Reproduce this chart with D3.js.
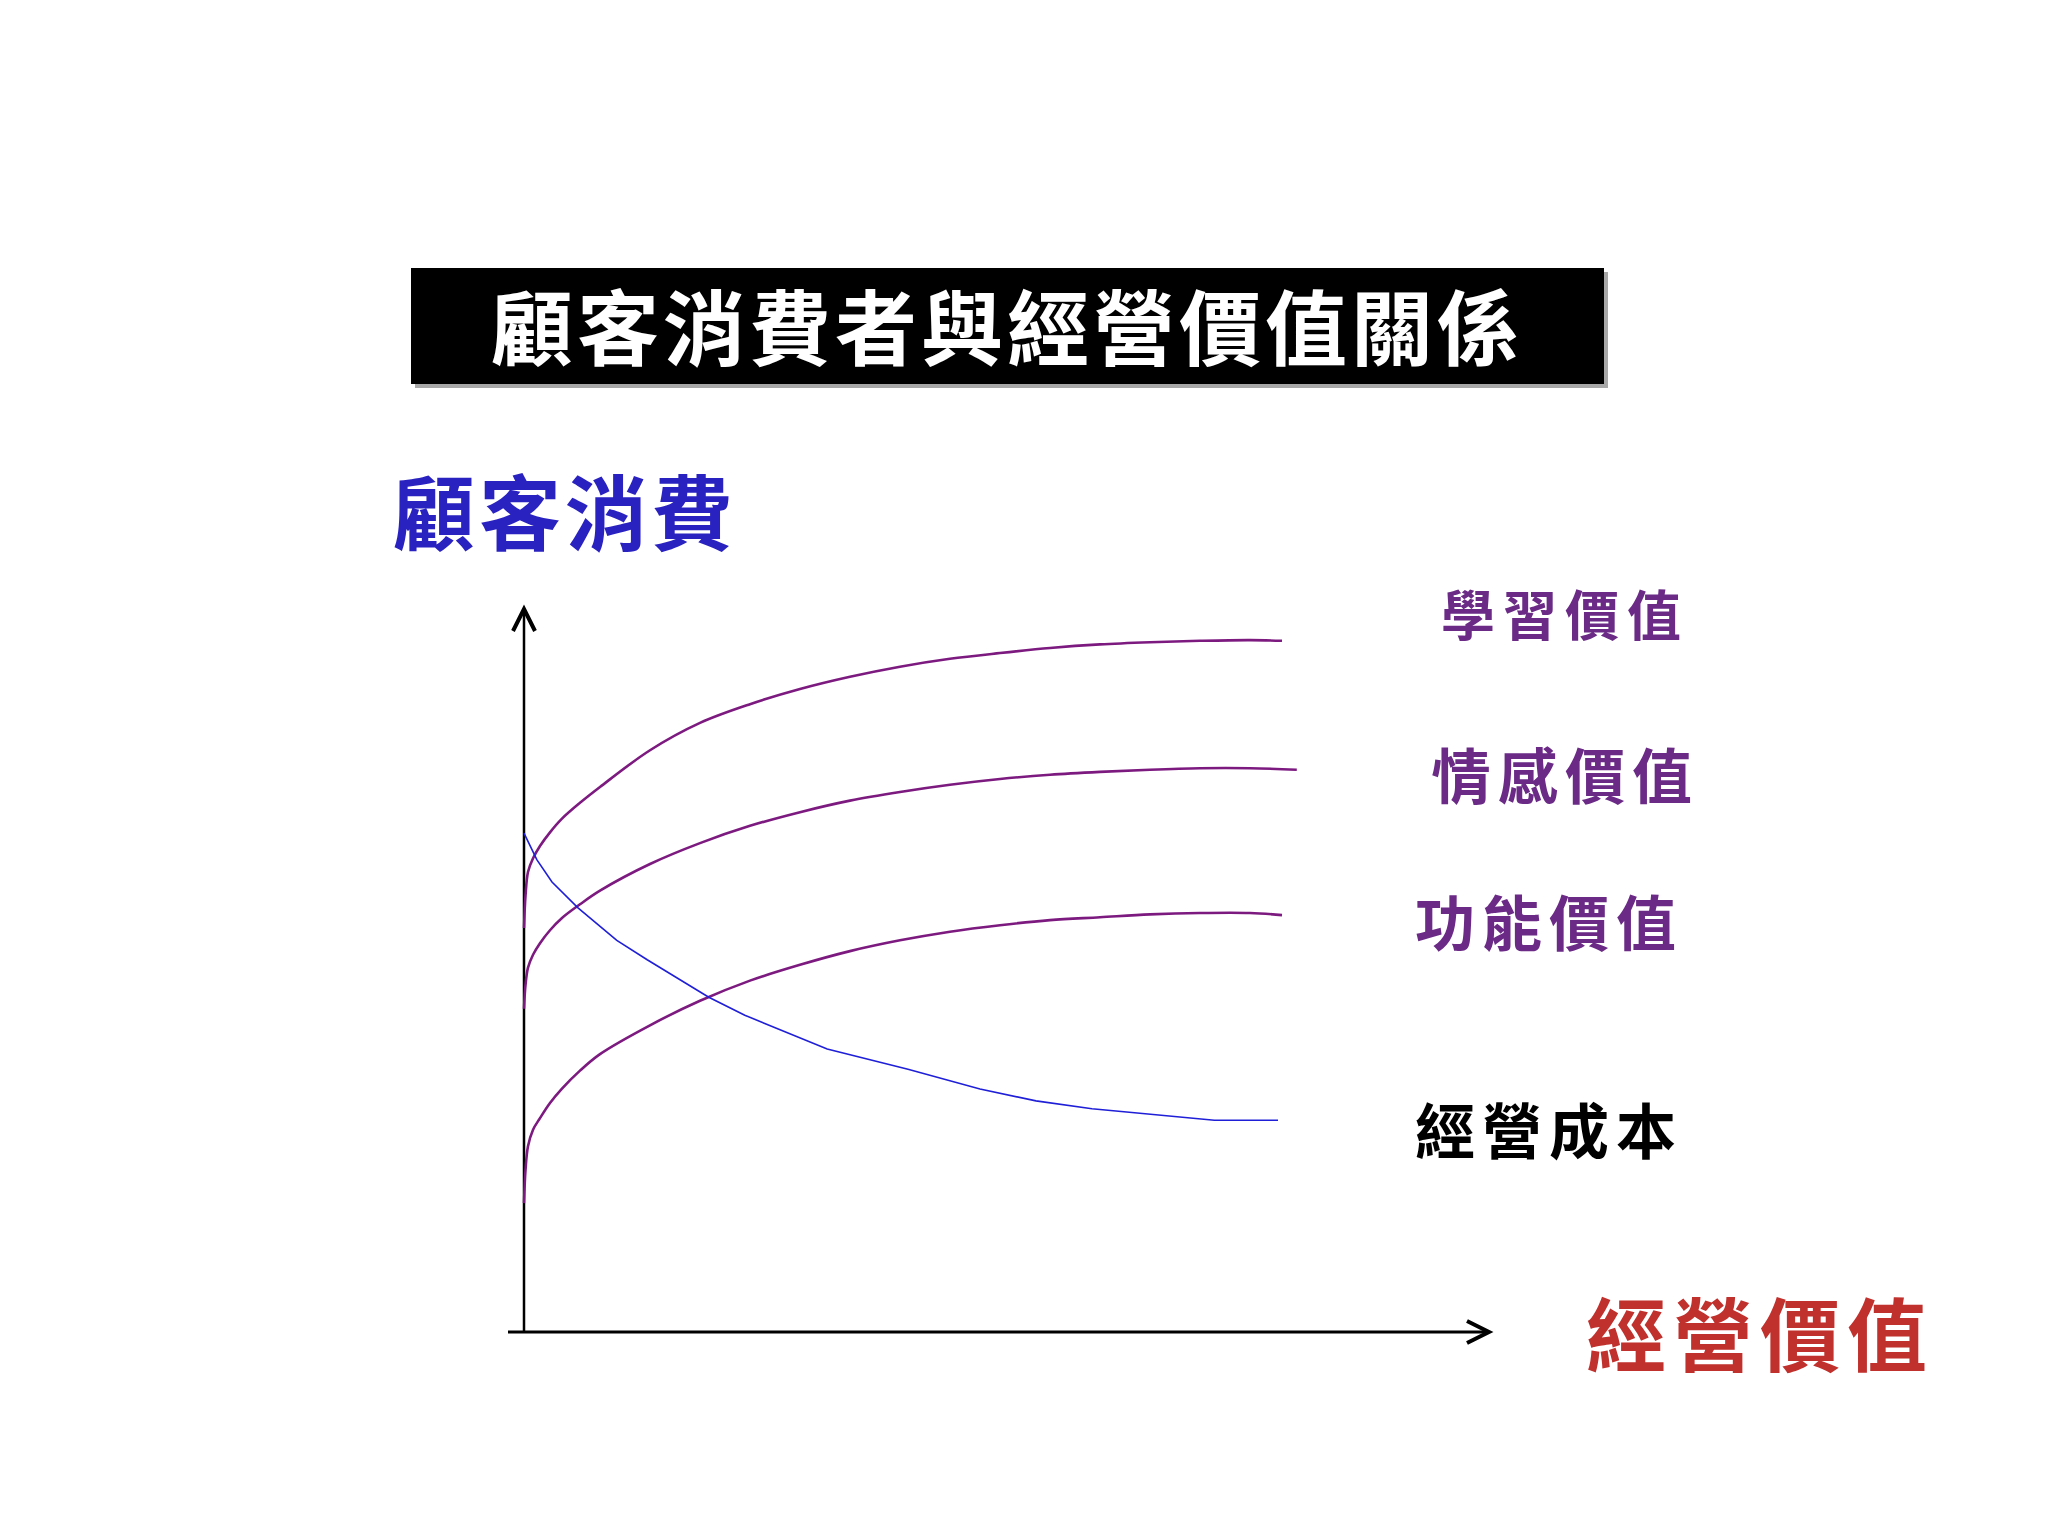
<!DOCTYPE html>
<html>
<head>
<meta charset="utf-8">
<script src="https://cdn.jsdelivr.net/npm/d3@7"></script>
<style>
  body { margin: 0; background: #fff; }
  svg { display: block; }
  text { font-family: "Noto Sans CJK TC", "Noto Sans CJK SC", sans-serif; font-weight: 700; }
</style>
</head>
<body>
<svg id="chart"></svg>
<script>
const width = 2048;
const height = 1536;

// chart text
const title = "顧客消費者與經營價值關係";
const yTitle = "顧客消費";
const xTitle = "經營價值";
const seriesNames = ["學習價值", "情感價值", "功能價值", "經營成本"];

// series values (x: 經營價值, y: 顧客消費)
const learningX = [0, 0.19, 0.5, 1.13, 2, 3.25, 4.75, 7, 9.5, 15.75, 22, 28.25, 34.5, 40.75, 47, 53.25, 59.5, 65.75, 72, 78.25, 84.5, 90.75, 94.75];
const learningY = [56.1, 60.6, 63.9, 65.8, 67.5, 69.4, 71.3, 73.5, 75.7, 80.8, 84.6, 87.2, 89.3, 91, 92.4, 93.5, 94.3, 95, 95.5, 95.8, 96, 96.1, 96];

const emotionX = [0, 0.19, 0.5, 1.13, 2, 3.25, 4.75, 7, 9.5, 15.75, 22, 28.25, 34.5, 40.75, 47, 53.25, 59.5, 65.75, 72, 78.25, 84.5, 90.75, 96.6];
const emotionY = [44.9, 48.2, 50.6, 52.4, 54, 55.8, 57.5, 59.4, 61.3, 65, 67.9, 70.3, 72.2, 73.8, 75, 76, 76.8, 77.4, 77.8, 78.1, 78.3, 78.3, 78.1];

const functionX = [0, 0.19, 0.5, 1.13, 2, 3.25, 4.75, 7, 9.5, 15.75, 22, 28.25, 34.5, 40.75, 47, 53.25, 59.5, 65.75, 72, 78.25, 84.5, 90.75, 94.75];
const functionY = [17.9, 22.5, 25.8, 28.1, 29.7, 31.8, 33.8, 36.3, 38.6, 42.6, 46, 48.8, 51, 52.9, 54.4, 55.6, 56.5, 57.2, 57.6, 58, 58.2, 58.2, 57.9];

const costX = [0, 1.6, 3.5, 6.75, 11.6, 15.4, 23.1, 27.6, 37.9, 48, 57, 64, 71, 86.3, 94.25];
const costY = [69.3, 65.6, 62.5, 58.9, 54.4, 51.7, 46.5, 44, 39.3, 36.5, 33.75, 32.1, 31, 29.4, 29.4];

const svg = d3.select("#chart")
    .attr("width", width)
    .attr("height", height)
    .attr("viewBox", [0, 0, width, height]);

svg.append("rect")
    .attr("width", width)
    .attr("height", height)
    .attr("fill", "#fff");

const xScale = d3.scaleLinear().domain([0, 100]).range([524, 1324]);
const yScale = d3.scaleLinear().domain([0, 100]).range([1332, 612]);

// title banner
const banner = svg.append("g");
banner.append("rect")
    .attr("x", 415).attr("y", 272)
    .attr("width", 1193).attr("height", 116)
    .attr("fill", "#a8a8a8");
banner.append("rect")
    .attr("x", 411).attr("y", 268)
    .attr("width", 1193).attr("height", 116)
    .attr("fill", "#000");
banner.append("text")
    .attr("x", 491)
    .attr("y", 323)
    .attr("dominant-baseline", "central")
    .attr("font-size", 82)
    .attr("letter-spacing", 4)
    .attr("fill", "#fff")
    .text(title);

// axes with open arrow heads
const axes = svg.append("g")
    .attr("fill", "none")
    .attr("stroke", "#000")
    .attr("stroke-linecap", "butt");

axes.append("line")
    .attr("x1", xScale(0)).attr("x2", xScale(0))
    .attr("y1", yScale(0)).attr("y2", 610)
    .attr("stroke-width", 2.5);
axes.append("path")
    .attr("d", `M${xScale(0) - 11},631 L${xScale(0)},609 L${xScale(0) + 11},631`)
    .attr("stroke-width", 4);

axes.append("line")
    .attr("x1", 508).attr("x2", 1487)
    .attr("y1", yScale(0)).attr("y2", yScale(0))
    .attr("stroke-width", 3);
axes.append("path")
    .attr("d", `M1467,${yScale(0) - 11} L1489,${yScale(0)} L1467,${yScale(0) + 11}`)
    .attr("stroke-width", 4);

// curves
const smooth = d3.line()
    .x(d => xScale(d[0]))
    .y(d => yScale(d[1]))
    .curve(d3.curveCatmullRom.alpha(0.5));

const straight = d3.line()
    .x(d => xScale(d[0]))
    .y(d => yScale(d[1]));

const zip = (xs, ys) => xs.map((x, i) => [x, ys[i]]);

const curves = svg.append("g").attr("fill", "none");

[[learningX, learningY], [emotionX, emotionY], [functionX, functionY]].forEach(s => {
    curves.append("path")
        .attr("d", smooth(zip(s[0], s[1])))
        .attr("stroke", "#7d1a80")
        .attr("stroke-width", 2.6);
});

curves.append("path")
    .attr("d", straight(zip(costX, costY)))
    .attr("stroke", "#1f1fd8")
    .attr("stroke-width", 1.6);

// series labels
const labelLayout = [
    { x: 1441, y: 612, size: 54, ls: 8, color: "#6a2a86" },
    { x: 1431, y: 772, size: 60, ls: 7, color: "#6a2a86" },
    { x: 1415, y: 919, size: 60, ls: 7, color: "#6a2a86" },
    { x: 1415, y: 1127, size: 60, ls: 7, color: "#000" },
];

svg.append("g")
    .selectAll("text")
    .data(seriesNames)
    .join("text")
    .attr("x", (d, i) => labelLayout[i].x)
    .attr("y", (d, i) => labelLayout[i].y)
    .attr("dominant-baseline", "central")
    .attr("font-size", (d, i) => labelLayout[i].size)
    .attr("letter-spacing", (d, i) => labelLayout[i].ls)
    .attr("fill", (d, i) => labelLayout[i].color)
    .text(d => d);

// axis titles
svg.append("text")
    .attr("x", 393)
    .attr("y", 508)
    .attr("dominant-baseline", "central")
    .attr("font-size", 82)
    .attr("letter-spacing", 4)
    .attr("fill", "#2a22c0")
    .text(yTitle);

svg.append("text")
    .attr("x", 1586)
    .attr("y", 1330)
    .attr("dominant-baseline", "central")
    .attr("font-size", 80)
    .attr("letter-spacing", 7)
    .attr("fill", "#c0302c")
    .text(xTitle);
</script>
</body>
</html>
